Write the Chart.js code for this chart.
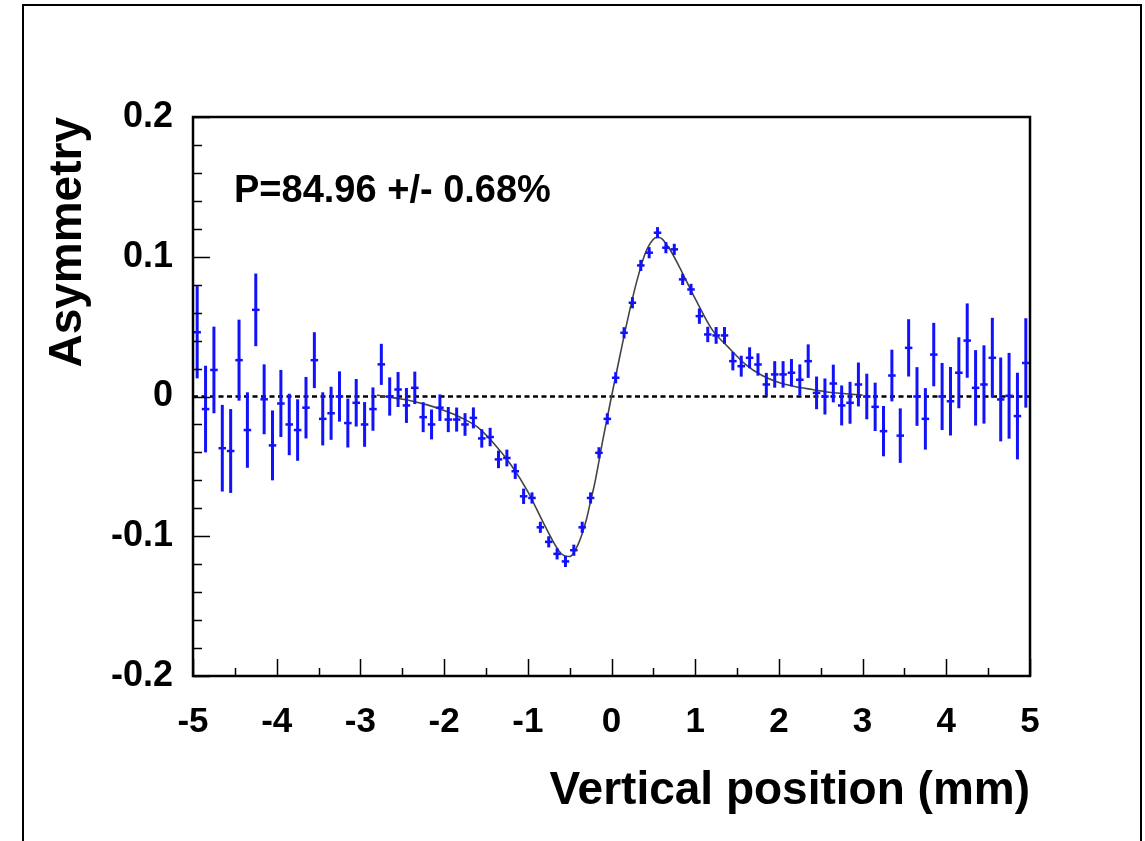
<!DOCTYPE html>
<html>
<head>
<meta charset="utf-8">
<script src="https://cdn.jsdelivr.net/npm/chart.js@4.4.1/dist/chart.umd.min.js"></script>
<style>
  html, body { margin: 0; padding: 0; background: #fff; }
  #wrap { width: 1145px; height: 841px; }
</style>
</head>
<body>
<div id="wrap"><canvas id="myChart" width="1145" height="841"></canvas></div>
<script>
// bins: 100 bins of 0.1 mm between -5 and 5
const binStart = -4.95;
const binWidth = 0.1;

const asym = [
    0.046, -0.009, 0.019, -0.037, -0.039, 0.026, -0.024, 0.062, -0.002, -0.035,
    -0.005, -0.020, -0.024, -0.008, 0.026, -0.016, -0.012, 0.000, -0.019, -0.0045,
    -0.020, -0.009, 0.023, 0.000, 0.005, -0.0064, 0.0062, -0.0148, -0.020, -0.008,
    -0.0165, -0.0165, -0.020, -0.0153, -0.030, -0.029, -0.045, -0.044, -0.0535, -0.0714,
    -0.0726, -0.0936, -0.104, -0.1126, -0.118, -0.110, -0.0936, -0.0726, -0.0403, -0.016,
    0.0134, 0.0456, 0.0671, 0.0938, 0.1029, 0.1172, 0.1065, 0.1053, 0.0838, 0.0766,
    0.0575, 0.0444, 0.0437, 0.0437, 0.0253, 0.0217, 0.0277, 0.0229, 0.0086, 0.0158,
    0.0158, 0.017, 0.012, 0.0253, 0.0026, 0.000, 0.0093, -0.0064, -0.0045, 0.0086,
    0.000, -0.0074, -0.0248, 0.015, -0.028, 0.0348, 0.000, -0.016, 0.030, 0.000,
    -0.0034, 0.017, 0.040, 0.0062, 0.0086, 0.0277, -0.0021, 0.0005, -0.014, 0.024
];

const asymErr = [
    0.033, 0.031, 0.031, 0.031, 0.030, 0.029, 0.027, 0.026, 0.025, 0.025,
    0.024, 0.022, 0.022, 0.022, 0.020, 0.019, 0.019, 0.018, 0.0175, 0.017,
    0.016, 0.0155, 0.0147, 0.0137, 0.0125, 0.0125, 0.0116, 0.0107, 0.0107, 0.0095,
    0.009, 0.0086, 0.0081, 0.0075, 0.0066, 0.0066, 0.0063, 0.006, 0.0055, 0.0055,
    0.004, 0.004, 0.004, 0.004, 0.004, 0.004, 0.004, 0.004, 0.004, 0.004,
    0.004, 0.004, 0.004, 0.004, 0.004, 0.004, 0.004, 0.004, 0.004, 0.004,
    0.0055, 0.0055, 0.006, 0.006, 0.0066, 0.0075, 0.0075, 0.008, 0.0083, 0.0095,
    0.0095, 0.0098, 0.011, 0.012, 0.0117, 0.0129, 0.0135, 0.0143, 0.015, 0.0157,
    0.0163, 0.0173, 0.018, 0.0185, 0.0195, 0.0205, 0.021, 0.022, 0.0227, 0.024,
    0.0245, 0.0254, 0.0266, 0.027, 0.028, 0.0286, 0.030, 0.0307, 0.031, 0.032
];

// fitted curve
const fitX = [-2.8, -2.6, -2.4, -2.2, -2.0, -1.8, -1.6, -1.4, -1.2, -1.0, -0.8, -0.6, -0.5, -0.4,
    -0.3, -0.25, -0.2, -0.1, 0.0, 0.1, 0.2, 0.3, 0.4, 0.5, 0.55, 0.6, 0.7, 0.8, 0.9, 1.0,
    1.2, 1.4, 1.6, 1.8, 2.0, 2.2, 2.4, 2.6, 2.8, 3.0];
const fitY = [0.001, -0.001, -0.003, -0.006, -0.010, -0.015, -0.022, -0.034, -0.049, -0.068, -0.092, -0.1125, -0.1145, -0.106,
    -0.088, -0.075, -0.062, -0.030, 0.000, 0.029, 0.057, 0.082, 0.102, 0.1125, 0.114, 0.113, 0.105, 0.094, 0.082, 0.070,
    0.048, 0.035, 0.023, 0.015, 0.010, 0.007, 0.005, 0.003, 0.002, 0.001];

const zeroX = [-5, 5];
const zeroY = [0, 0];

const xTicks = [-5, -4, -3, -2, -1, 0, 1, 2, 3, 4, 5];
const yTicks = [-0.2, -0.1, 0, 0.1, 0.2];
const yTickLabels = ["-0.2", "-0.1", "0", "0.1", "0.2"];

const pLabel = "P=84.96 +/- 0.68%";

const binCenters = asym.map((v, i) => +(binStart + i * binWidth).toFixed(2));
const blue = "rgb(18, 18, 250)";
const font = "'Liberation Sans', Arial, Helvetica, sans-serif";

const errorBars = {
    id: "errorBars",
    afterDatasetsDraw(chart) {
        const { ctx, scales: { x, y } } = chart;
        ctx.save();
        ctx.strokeStyle = blue;
        for (let i = 0; i < asym.length; i++) {
            const px = x.getPixelForValue(binCenters[i]);
            const py = y.getPixelForValue(asym[i]);
            ctx.lineWidth = 3;
            ctx.beginPath();
            ctx.moveTo(px, y.getPixelForValue(asym[i] + asymErr[i]));
            ctx.lineTo(px, y.getPixelForValue(asym[i] - asymErr[i]));
            ctx.stroke();
            ctx.lineWidth = 2.5;
            ctx.beginPath();
            ctx.moveTo(x.getPixelForValue(binCenters[i] - 0.045), py);
            ctx.lineTo(x.getPixelForValue(binCenters[i] + 0.045), py);
            ctx.stroke();
        }
        ctx.restore();
    }
};

// box, inward ticks, outer frame and the P label
const frame = {
    id: "frame",
    afterDraw(chart) {
        const { ctx, chartArea: a, scales: { x, y } } = chart;
        ctx.save();
        ctx.strokeStyle = "#000";
        ctx.lineWidth = 1.5;
        ctx.beginPath();
        for (let i = 0; i <= 20; i++) {
            const v = -0.2 + i * 0.02;
            const len = i % 5 === 0 ? 17 : 9;
            const py = Math.round(y.getPixelForValue(v)) + 0.5;
            ctx.moveTo(a.left, py);
            ctx.lineTo(a.left + len, py);
        }
        for (let i = 0; i <= 20; i++) {
            const v = -5 + i * 0.5;
            const len = i % 2 === 0 ? 17 : 8;
            const px = Math.round(x.getPixelForValue(v)) + 0.5;
            ctx.moveTo(px, a.bottom);
            ctx.lineTo(px, a.bottom - len);
        }
        ctx.stroke();

        ctx.lineWidth = 2.5;
        ctx.strokeRect(a.left, a.top, a.right - a.left, a.bottom - a.top);

        ctx.lineWidth = 2;
        ctx.beginPath();
        ctx.moveTo(23, 900);
        ctx.lineTo(23, 5);
        ctx.lineTo(1141, 5);
        ctx.lineTo(1141, 900);
        ctx.stroke();

        ctx.fillStyle = "#000";
        ctx.font = "bold 38px " + font;
        ctx.textBaseline = "alphabetic";
        ctx.fillText(pLabel, 234, 202);
        ctx.restore();
    }
};

const myChart = new Chart("myChart", {
    type: "scatter",
    data: {
        datasets: [
            {
                label: "data",
                data: binCenters.map((v, i) => ({ x: v, y: asym[i] })),
                pointRadius: 0,
                showLine: false,
                order: 1
            },
            {
                label: "fit",
                type: "line",
                data: fitX.map((v, i) => ({ x: v, y: fitY[i] })),
                borderColor: "#444",
                borderWidth: 1.6,
                pointRadius: 0,
                cubicInterpolationMode: "monotone",
                fill: false,
                order: 2
            },
            {
                label: "zero",
                type: "line",
                data: zeroX.map((v, i) => ({ x: v, y: zeroY[i] })),
                borderColor: "#000",
                borderWidth: 2.5,
                borderDash: [5, 3.5],
                pointRadius: 0,
                fill: false,
                order: 3
            }
        ]
    },
    options: {
        responsive: false,
        animation: false,
        layout: {
            padding: { left: 30, top: 117, right: 115, bottom: 0 }
        },
        plugins: {
            legend: { display: false },
            tooltip: { enabled: false }
        },
        scales: {
            x: {
                type: "linear",
                min: -5,
                max: 5,
                afterFit: (s) => { s.height = 165; },
                afterBuildTicks: (s) => { s.ticks = xTicks.map(v => ({ value: v })); },
                grid: { display: false, drawTicks: false },
                border: { display: false },
                ticks: {
                    padding: 25,
                    color: "#000",
                    maxRotation: 0,
                    autoSkip: false,
                    font: { family: font, size: 35, weight: "bold" },
                    callback: (v) => String(v)
                },
                title: {
                    display: true,
                    text: "Vertical position (mm)",
                    align: "end",
                    color: "#000",
                    padding: { top: 0, bottom: 22 },
                    font: { family: font, size: 46, weight: "bold" }
                }
            },
            y: {
                type: "linear",
                min: -0.2,
                max: 0.2,
                afterFit: (s) => { s.width = 163; },
                afterBuildTicks: (s) => { s.ticks = yTicks.map(v => ({ value: v })); },
                grid: { display: false, drawTicks: false },
                border: { display: false },
                ticks: {
                    padding: 20,
                    color: "#000",
                    autoSkip: false,
                    font: { family: font, size: 36, weight: "bold" },
                    callback: (v) => yTickLabels[yTicks.findIndex(t => Math.abs(t - v) < 1e-9)]
                },
                title: {
                    display: true,
                    text: "Asymmetry",
                    align: "end",
                    color: "#000",
                    padding: { top: 11, bottom: 0 },
                    font: { family: font, size: 46, weight: "bold" }
                }
            }
        }
    },
    plugins: [errorBars, frame]
});
</script>
</body>
</html>
